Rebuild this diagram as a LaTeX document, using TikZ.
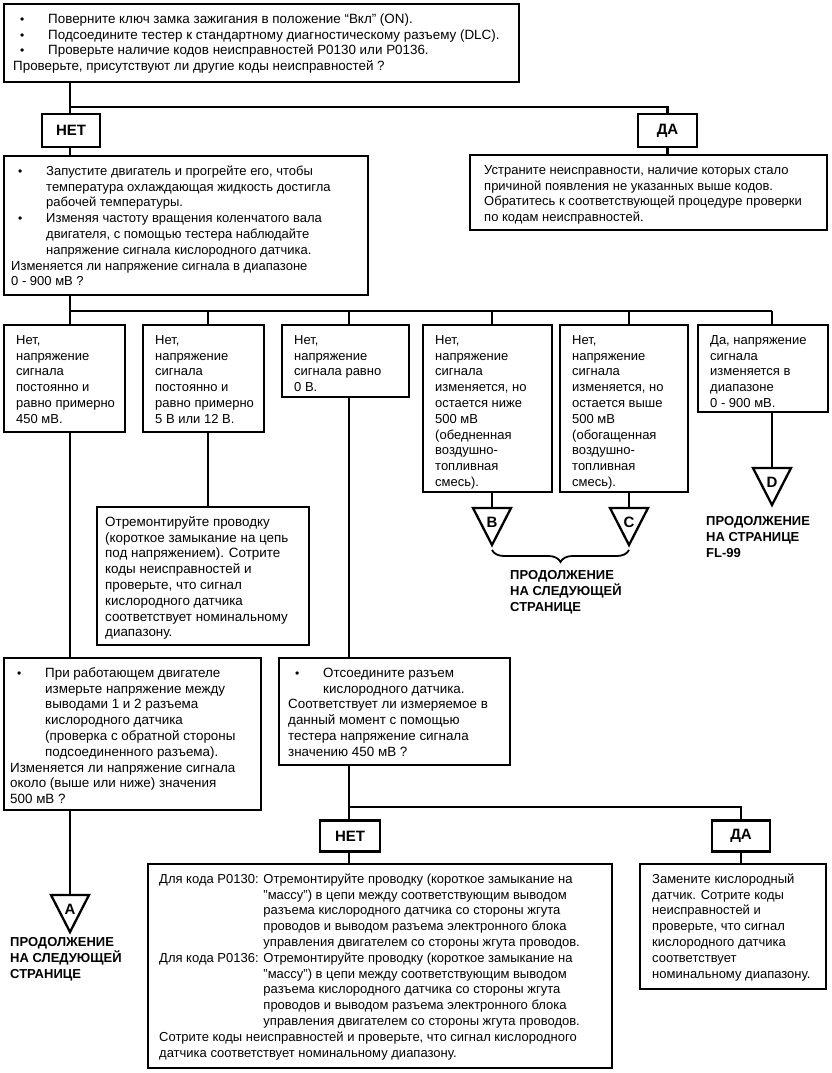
\documentclass[tikz,border=0pt]{standalone}
\usepackage{fontspec}
\setmainfont{Liberation Sans}
\usetikzlibrary{calc,decorations.pathreplacing}
\newcommand\fs{\fontsize{13}{15.8}\selectfont}
\newcommand\fsb{\fontsize{13.4}{15.8}\selectfont}
\newcommand\bul{\makebox[35pt][l]{\hspace*{7pt}{\fontsize{12}{12}\selectfont •}}}
\newcommand\ind{\hspace*{35pt}}
\newcommand\pfx{\hphantom{Для кода P0130: }}
\newcommand\mkbox[5]{\node[box,anchor=north west,minimum width={#4pt-#2pt},minimum height={#5pt-#3pt}] (#1) at (#2,#3) {};}
\newcommand\mktxt[4]{\node[txt] at ($(#1.north west)+(#2,#3)$) {\strut#4};}
\newcommand\mktri[4]{%
  \coordinate (#1top) at (#2,#3);
  \node[tril] (#1) at ($(#1top)+(0,14)$) {#4};
  \draw[tri] ($(#1top)+(-19,0)$) -- ($(#1top)+(19,0)$) -- ($(#1top)+(0,37)$) -- cycle;}
\begin{document}
\begin{tikzpicture}[x=1pt,y=-1pt,
  box/.style={draw,line width=2.6pt,inner sep=0pt,outer sep=0pt},
  txt/.style={anchor=north west,inner sep=0pt,align=left,font=\fs},
  lab/.style={box,font=\bfseries\fontsize{15}{16}\selectfont},
  conn/.style={line width=2.3pt},
  tri/.style={line width=2.3pt,line join=miter},
  tril/.style={inner sep=0pt,font=\bfseries\fontsize{15}{16}\selectfont},
  cont/.style={anchor=north west,inner sep=0pt,align=left,font=\bfseries\fontsize{13}{16}\selectfont}]
\useasboundingbox (0,0) rectangle (831,1073);

% ---------- boxes ----------
\mkbox{top}{4}{4}{519}{82}
\node[txt,font=\fsb] at ($(top.north west)+(9,8)$) {\strut\bul Поверните ключ замка зажигания в положение “Вкл” (ON).\\
\bul Подсоедините тестер к стандартному диагностическому разъему (DLC).\\
\bul Проверьте наличие кодов неисправностей P0130 или P0136.\\
Проверьте, присутствуют ли другие коды неисправностей ?};

\node[lab,minimum width=58pt,minimum height=33pt] (net1) at (71,130.5) {НЕТ};
\node[lab,minimum width=59pt,minimum height=33pt] (da1) at (667.5,130.5) {ДА};

\mkbox{q2}{4}{156}{368}{295}
\mktxt{q2}{7}{8}{\bul Запустите двигатель и прогрейте его, чтобы\\
\ind температура охлаждающая жидкость достигла\\
\ind рабочей температуры.\\
\bul Изменяя частоту вращения коленчатого вала\\
\ind двигателя, с помощью тестера наблюдайте\\
\ind напряжение сигнала кислородного датчика.\\
Изменяется ли напряжение сигнала в диапазоне\\
0 - 900 мВ ?}

\mkbox{fix1}{470}{155}{827}{230}
\mktxt{fix1}{14}{8}{Устраните неисправности, наличие которых стало\\
причиной появления не указанных выше кодов.\\
Обратитесь к соответствующей процедуре проверки\\
по кодам неисправностей.}

\mkbox{b1}{4}{325}{125}{432}
\mktxt{b1}{12}{8}{Нет,\\напряжение\\сигнала\\постоянно и\\равно примерно\\450 мВ.}
\mkbox{b2}{143}{325}{264}{432}
\mktxt{b2}{12}{8}{Нет,\\напряжение\\сигнала\\постоянно и\\равно примерно\\5 В или 12 В.}
\mkbox{b3}{282}{325}{409}{397}
\mktxt{b3}{12}{8}{Нет,\\напряжение\\сигнала равно\\0 В.}
\mkbox{b4}{423}{325}{552}{492}
\mktxt{b4}{12}{8}{Нет,\\напряжение\\сигнала\\изменяется, но\\остается ниже\\500 мВ\\(обедненная\\воздушно-\\топливная\\смесь).}
\mkbox{b5}{560}{325}{688}{492}
\mktxt{b5}{12}{8}{Нет,\\напряжение\\сигнала\\изменяется, но\\остается выше\\500 мВ\\(обогащенная\\воздушно-\\топливная\\смесь).}
\mkbox{b6}{698}{325}{828}{412}
\mktxt{b6}{12}{8}{Да, напряжение\\сигнала\\изменяется в\\диапазоне\\0 - 900 мВ.}

\mkbox{fix2}{97}{507}{309}{645}
\node[txt,font=\fsb] at ($(fix2.north west)+(8,8)$) {\strut Отремонтируйте проводку\\(короткое замыкание на цепь\\под напряжением). Сотрите\\коды неисправностей и\\проверьте, что сигнал\\кислородного датчика\\соответствует номинальному\\диапазону.};

\mkbox{q3}{4}{658}{261}{810}
\node[txt,font=\fsb] at ($(q3.north west)+(6,8)$) {\strut\bul При работающем двигателе\\
\ind измерьте напряжение между\\
\ind выводами 1 и 2 разъема\\
\ind кислородного датчика\\
\ind (проверка с обратной стороны\\
\ind подсоединенного разъема).\\
Изменяется ли напряжение сигнала\\
около (выше или ниже) значения\\
500 мВ ?};

\mkbox{q4}{279}{658}{510}{765}
\node[txt,font=\fsb] at ($(q4.north west)+(9,8)$) {\strut\bul Отсоедините разъем\\
\ind кислородного датчика.\\
Соответствует ли измеряемое в\\
данный момент с помощью\\
тестера напряжение сигнала\\
значению 450 мВ ?};

\node[lab,minimum width=60pt,minimum height=31pt] (net2) at (350,836) {НЕТ};
\node[lab,minimum width=58pt,minimum height=31pt] (da2) at (741,836) {ДА};

\mkbox{fix3}{148}{864}{612}{1068}
\mktxt{fix3}{11}{8}{Для кода P0130: Отремонтируйте проводку (короткое замыкание на\\
\pfx "массу") в цепи между соответствующим выводом\\
\pfx разъема кислородного датчика со стороны жгута\\
\pfx проводов и выводом разъема электронного блока\\
\pfx управления двигателем со стороны жгута проводов.\\
Для кода P0136: Отремонтируйте проводку (короткое замыкание на\\
\pfx "массу") в цепи между соответствующим выводом\\
\pfx разъема кислородного датчика со стороны жгута\\
\pfx проводов и выводом разъема электронного блока\\
\pfx управления двигателем со стороны жгута проводов.\\
Сотрите коды неисправностей и проверьте, что сигнал кислородного\\
датчика соответствует номинальному диапазону.}

\mkbox{fix4}{640}{864}{826}{989}
\mktxt{fix4}{12}{8}{Замените кислородный\\датчик. Сотрите коды\\неисправностей и\\проверьте, что сигнал\\кислородного датчика\\соответствует\\номинальному диапазону.}

% ---------- continuation triangles ----------
\mktri{A}{70}{895}{A}
\mktri{B}{492}{508}{B}
\mktri{C}{629}{508}{C}
\mktri{D}{772}{468}{D}

\node[cont] (contA) at (10,937) {ПРОДОЛЖЕНИЕ\\НА СЛЕДУЮЩЕЙ\\СТРАНИЦЕ};
\node[cont] (contBC) at (510,570) {ПРОДОЛЖЕНИЕ\\НА СЛЕДУЮЩЕЙ\\СТРАНИЦЕ};
\node[cont] (contD) at (706,516) {ПРОДОЛЖЕНИЕ\\НА СТРАНИЦЕ\\FL-99};

\draw[line width=1.8pt,decorate,decoration={brace,mirror,amplitude=12pt}]
  ($(Btop)+(0,42)$) -- ($(Ctop)+(0,42)$);

% ---------- connectors ----------
\coordinate (j1) at (70,107);
\coordinate (x1) at (70,311);
\coordinate (x2) at (208,311);
\coordinate (x3) at (349,311);
\coordinate (x4) at (492,311);
\coordinate (x5) at (629,311);
\coordinate (x6) at (772,311);
\coordinate (j2) at (349,807);

\draw[conn] (top.south -| j1) -- (j1 |- net1.north);
\draw[conn] (j1) -- (j1 -| da1) -- (da1.north);
\draw[conn] (net1.south -| j1) -- (j1 |- q2.north);
\draw[conn] (da1.south) -- (da1.south |- fix1.north);

\draw[conn] (q2.south -| x1) -- (x1) -- (x6);
\foreach \i in {1,...,6}{\draw[conn] (x\i) -- (x\i |- b\i.north);}

\draw[conn] (b1.south -| x1) -- (x1 |- q3.north);
\draw[conn] (q3.south -| x1) -- (Atop);
\draw[conn] (b2.south -| x2) -- (x2 |- fix2.north);
\draw[conn] (b3.south -| x3) -- (x3 |- q4.north);
\draw[conn] (b4.south -| x4) -- (Btop);
\draw[conn] (b5.south -| x5) -- (Ctop);
\draw[conn] (b6.south -| x6) -- (Dtop);

\draw[conn] (q4.south -| j2) -- (j2 |- net2.north);
\draw[conn] (j2) -- (j2 -| da2) -- (da2.north);
\draw[conn] (net2.south -| j2) -- (j2 |- fix3.north);
\draw[conn] (da2.south) -- (da2.south |- fix4.north);
\end{tikzpicture}
\end{document}
